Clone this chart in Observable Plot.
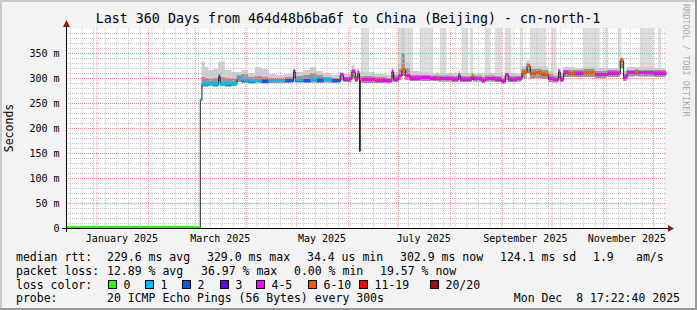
<!DOCTYPE html>
<html><head><meta charset="utf-8">
<script src="https://cdn.jsdelivr.net/npm/d3@7"></script>
<script src="https://cdn.jsdelivr.net/npm/@observablehq/plot@0.6"></script>
<style>
html,body{margin:0;padding:0;background:#f3f3f3;}
#chart{width:697px;height:310px;}
svg text{white-space:pre;}
</style></head><body><div id="chart"></div>
<script>
// ---- data ----
const rangeStart = "2024-12-13T17:22";
const rangeEnd = "2025-12-08T17:22";
const dates = ["2024-12-13T17:22","2025-03-04","2025-03-05","2025-03-07","2025-03-09","2025-03-12","2025-03-15","2025-03-16","2025-03-19","2025-03-23",
"2025-03-26","2025-03-29","2025-04-02","2025-04-06","2025-04-10","2025-04-14","2025-04-19","2025-04-24","2025-04-29","2025-04-30",
"2025-05-05","2025-05-09","2025-05-13","2025-05-17","2025-05-22","2025-05-27","2025-05-29","2025-06-02","2025-06-03","2025-06-05",
"2025-06-06T12:00","2025-06-07T12:00","2025-06-08","2025-06-09","2025-06-17","2025-06-18","2025-06-24","2025-06-27","2025-06-28","2025-07-01",
"2025-07-03","2025-07-05","2025-07-08","2025-07-14","2025-07-20","2025-07-24","2025-07-25","2025-08-02","2025-08-06","2025-08-07",
"2025-08-14","2025-08-15","2025-08-20","2025-08-22","2025-08-28","2025-09-01","2025-09-03","2025-09-05","2025-09-10","2025-09-13",
"2025-09-16","2025-09-18","2025-09-21","2025-09-25","2025-09-29","2025-10-02","2025-10-05","2025-10-06","2025-10-08","2025-10-11",
"2025-10-15","2025-10-20","2025-10-27","2025-11-03","2025-11-11","2025-11-13","2025-11-15","2025-11-20","2025-11-22","2025-12-01",
"2025-12-08T17:22"];
const median = [0,256,288,287,288,287,303,288,287,288,
298,295,293,294,293,294,294,294,313,295,
294,296,295,296,294,306,297,298,313,297,
310,155,296,296,295,295,294,313,297,304,
316,304,299,300,299,299,298,297,306,297,
304,298,295,298,297,293,306,297,298,311,
324,308,310,307,298,296,313,297,311,309,
309,310,306,309,335,300,310,311,310,309,
309];
const lossIdx = [0,1,1,1,1,1,2,1,1,1,
1,1,1,1,2,1,1,2,3,1,
2,1,2,1,2,4,4,4,4,4,
4,3,5,4,5,4,4,4,4,4,
5,4,4,4,4,5,4,4,4,4,
5,4,4,4,4,4,4,4,4,5,
5,5,5,5,4,4,4,4,4,5,
4,5,4,4,5,4,4,5,4,4,
4];
const smokeLo = [0,254,283,283,284,283,294,284,283,284,
292,290,289,290,289,290,290,290,300,291,
290,291,290,291,290,295,292,292,300,292,
298,152,290,290,290,290,289,300,292,296,
304,296,294,294,294,294,293,292,296,292,
296,293,290,293,292,288,296,292,293,300,
310,298,300,298,292,291,300,292,302,302,
302,302,300,302,320,294,303,304,303,302,
302];
const smokeHi = [0,258,302,300,298,300,306,302,300,298,
306,308,302,304,302,300,300,302,316,304,
306,310,306,302,300,308,302,306,316,304,
314,158,304,304,302,302,300,316,306,318,
350,320,306,306,305,306,305,304,308,304,
308,305,302,305,304,300,308,304,304,318,
330,318,318,316,308,304,316,304,316,316,
316,318,314,316,338,308,316,318,316,316,
316];
const smokeTop = [0,258,333,322,316,318,333,333,316,312,
312,316,310,322,318,308,306,308,320,312,
316,322,314,310,306,312,308,316,326,310,
320,158,312,312,308,308,306,322,312,330,
400,332,314,312,310,312,310,310,314,310,
312,310,308,310,310,306,312,310,310,324,
336,324,324,322,314,310,320,310,322,322,
320,322,320,320,342,314,322,322,322,320,
320];
// smoke reaching above the top of the graph (lost/very slow pings)
const tallFrom = ["2025-06-08T17:00","2025-06-30T22:00","2025-07-14","2025-07-26","2025-08-08","2025-08-13","2025-08-22","2025-08-28","2025-09-03","2025-09-12","2025-09-18","2025-10-01","2025-10-20","2025-11-02","2025-11-10","2025-11-23","2025-12-04"];
const tallTo   = ["2025-06-13T12:00","2025-07-10","2025-07-22","2025-07-30","2025-08-12","2025-08-15","2025-08-25","2025-09-01","2025-09-07","2025-09-14","2025-09-28","2025-10-04","2025-10-30","2025-11-04","2025-11-12","2025-12-01","2025-12-06"];
const tallLow  = [306,312,308,306,306,306,306,306,304,312,318,308,312,314,318,316,316];
const lossColors = ["#26ff00","#00b8ff","#0059ff","#5e00ff","#ff00ff","#ff5500","#ff0000","#a01010"];
const lossLabels = ["0","1","2","3","4-5","6-10","11-19","20/20"];
const xLabelDates = ["2025-01-16","2025-03-16","2025-05-16","2025-07-16","2025-09-15","2025-11-15"];
const xLabels = ["January 2025","March 2025","May 2025","July 2025","September 2025","November 2025"];
const yMajor = [50,100,150,200,250,300,350];
const yLabelTicks = [0,50,100,150,200,250,300,350];
const yTop = 400;
const title = "Last 360 Days from 464d48b6ba6f to China (Beijing) - cn-north-1";
const statsRtt = [["median rtt:",16],["229.6 ms avg",107],["329.0 ms max",207],["34.4 us min",307],["302.9 ms now",400],["124.1 ms sd",500],["1.9",593],["am/s",636]];
const statsLoss = [["packet loss:",16],["12.89 % avg",107],["36.97 % max",201],["0.00 % min",294],["19.57 % now",380]];
const probeText = "20 ICMP Echo Pings (56 Bytes) every 300s";
const stampText = "Mon Dec  8 17:22:40 2025";

// ---- build ----
const T = s => new Date(s.length === 10 ? s + "T00:00:00Z" : s + ":00Z");
const start = T(rangeStart), end = T(rangeEnd);
const pts = dates.map((d,i)=>({t:T(d), med:median[i], loss:lossIdx[i], lo:smokeLo[i], hi:smokeHi[i], top:smokeTop[i]}));
const segs = pts.slice(0,-1).map((p,i)=>({t1:p.t, t2:pts[i+1].t, v:p.med, c:lossColors[p.loss]}));
const tall = tallFrom.map((d,i)=>({t1:T(d), t2:T(tallTo[i]), lo:tallLow[i], hi:yTop}));
const xMajor = d3.utcMonth.range(start, end);
const xMinor = d3.utcMonday.range(start, end);
const yMinor = d3.range(10, yTop, 10).filter(v => v % 50 !== 0);
const FONT = "'DejaVu Sans Mono', monospace";

const chart = Plot.plot({
  width: 697, height: 310,
  marginLeft: 66, marginRight: 31, marginTop: 28, marginBottom: 82,
  style: {background: "#f3f3f3", fontFamily: FONT, fontSize: "10px", color: "#000"},
  x: {type: "utc", domain: [start, end]},
  y: {domain: [0, yTop]},
  color: {type: "identity"},
  marks: [
    Plot.frame({fill: "#ffffff", stroke: "none"}),
    Plot.rect(tall, {x1: "t1", x2: "t2", y1: "lo", y2: "hi", fill: "#dddddd"}),
    Plot.areaY(pts, {x: "t", y1: "lo", y2: "top", curve: "step-after", fill: "#cfcfcf"}),
    Plot.areaY(pts, {x: "t", y1: "lo", y2: "hi", curve: "step-after", fill: "#959595"}),
    Plot.ruleY(yMinor, {stroke: "#c4c4c4", strokeDasharray: "1,1"}),
    Plot.ruleX(xMinor, {stroke: "#c4c4c4", strokeDasharray: "1,1"}),
    Plot.ruleY(yMajor, {stroke: "#f29090", strokeDasharray: "1,1"}),
    Plot.ruleX(xMajor, {stroke: "#f29090", strokeDasharray: "1,1"}),
    Plot.line(pts, {x: "t", y: "med", curve: "step-after", stroke: "#202020", strokeWidth: 1}),
    Plot.link(segs, {x1: "t1", x2: "t2", y1: "v", y2: "v", stroke: "c", strokeWidth: 3, dy: -1}),
    Plot.axisY({ticks: yLabelTicks, tickFormat: d => d === 0 ? "0" : d + " m", tickSize: 0, tickPadding: 7, fontSize: 10}),
    Plot.axisX({ticks: xLabelDates.map(T), tickFormat: (d, i) => xLabels[i], tickSize: 0, tickPadding: 6, fontSize: 10})
  ]
});
document.getElementById("chart").appendChild(chart);

// ---- decorations (axes arrows, texts, frame) ----
const svg = d3.select(chart);
const xs = chart.scale("x"), ys = chart.scale("y");
const x0 = xs.apply(start), x1 = xs.apply(end), y0 = ys.apply(0), yT = ys.apply(yTop);
const g = svg.append("g");
g.append("line").attr("x1", x0 - 4).attr("x2", x1 + 3).attr("y1", y0 + 0.5).attr("y2", y0 + 0.5).attr("stroke", "#000");
g.append("line").attr("x1", x0 + 0.5).attr("x2", x0 + 0.5).attr("y1", y0 + 4).attr("y2", yT - 2).attr("stroke", "#000");
g.append("path").attr("d", `M${x0 - 3},${yT - 1} L${x0 + 4},${yT - 1} L${x0 + 0.5},${yT - 8} Z`).attr("fill", "#8b1a1a");
g.append("path").attr("d", `M${x1 + 2},${y0 - 3} L${x1 + 2},${y0 + 4} L${x1 + 8},${y0 + 0.5} Z`).attr("fill", "#8b1a1a");

const txt = (s, x, y, opts = {}) => g.append("text").attr("x", x).attr("y", y)
  .attr("font-family", FONT).attr("font-size", opts.size || 11.5).attr("fill", opts.fill || "#000")
  .attr("text-anchor", opts.anchor || "start").attr("transform", opts.transform || null).text(s);

txt(title, 348, 23, {size: 13.3, anchor: "middle"});
txt("Seconds", 0, 0, {size: 11.5, anchor: "middle", transform: "translate(13,128) rotate(-90)"});
txt("RRDTOOL / TOBI OETIKER", 0, 0, {size: 8.5, fill: "#aaaaaa", transform: "translate(683,4) rotate(90)"});

statsRtt.forEach(([s, x]) => txt(s, x, 261));
statsLoss.forEach(([s, x]) => txt(s, x, 275));
txt("loss color:", 16, 289);
const boxX = [108,145,182,220,256,308,359,430];
lossLabels.forEach((l, i) => {
  g.append("rect").attr("x", boxX[i] + 0.5).attr("y", 280.5).attr("width", 8).attr("height", 8)
    .attr("fill", lossColors[i]).attr("stroke", "#000").attr("stroke-width", 1);
  txt(l, boxX[i] + 15.5, 289);
});
txt("probe:", 16, 302);
txt(probeText, 107, 302);
txt(stampText, 680, 302, {anchor: "end"});

// 3D border like rrdtool
g.append("rect").attr("x", 0).attr("y", 0).attr("width", 697).attr("height", 2).attr("fill", "#cbcbcb");
g.append("rect").attr("x", 0).attr("y", 0).attr("width", 2).attr("height", 310).attr("fill", "#cbcbcb");
g.append("rect").attr("x", 695).attr("y", 0).attr("width", 2).attr("height", 310).attr("fill", "#999999");
g.append("rect").attr("x", 0).attr("y", 308).attr("width", 697).attr("height", 2).attr("fill", "#999999");
</script></body></html>
